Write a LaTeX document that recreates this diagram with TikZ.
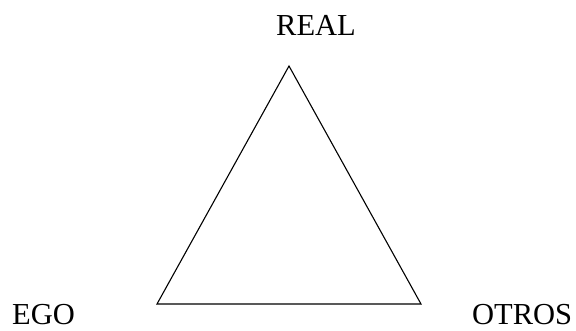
\documentclass[tikz,border=0pt]{standalone}
\usepackage{fontspec}
\setmainfont{Liberation Serif}
\begin{document}
\begin{tikzpicture}[x=1pt,y=-1pt,
  lbl/.style={inner sep=0pt,anchor=base west,text depth=0pt,font=\fontsize{30.5}{32}\selectfont},
  edge/.style={line width=1.1pt,line join=miter}]
\useasboundingbox (0,0) rectangle (576,330);
\coordinate (top) at (289,66);
\coordinate (left) at (157,304);
\coordinate (right) at (421,304);
\draw[edge] (top) -- (left) -- (right) -- cycle;
\node[lbl] (real) at (276,35) {REAL};
\node[lbl] (ego) at (12,324) {EGO};
\node[lbl] (otros) at (472,324) {OTROS};
\end{tikzpicture}
\end{document}
